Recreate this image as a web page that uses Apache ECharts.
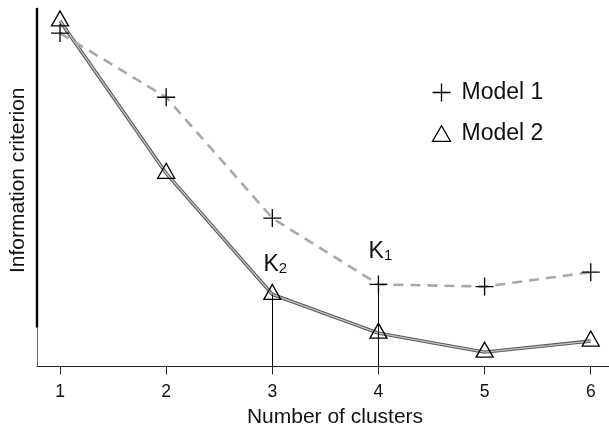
<!DOCTYPE html>
<html>
<head>
<meta charset="utf-8">
<script src="https://cdn.jsdelivr.net/npm/echarts@6/dist/echarts.min.js"></script>
<style>
html,body{margin:0;padding:0;background:#fff;}
#chart{width:609px;height:427px;}
</style>
</head>
<body>
<div id="chart"></div>
<script>
// ---- data ----
const clusters = [1, 2, 3, 4, 5, 6];
const tickValues = [1, 2, 3, 4, 5, 6];
const model1 = [93.0, 75.1, 41.4, 22.9, 22.3, 26.3];
const model2 = [96.4, 53.9, 20.1, 9.3, 4.0, 7.1];
const seriesNames = ['Model 1', 'Model 2'];
const xAxisName = 'Number of clusters';
const yAxisName = 'Information criterion';
const k2Cluster = 3;   // K2 marked on Model 2
const k1Cluster = 4;   // K1 marked on Model 1

// ---- axis ranges ----
const xMin = 0.783, xMax = 6.172;
const yMin = 0, yMax = 100;
const yThickFrom = 10.9;

const FONT = "'Liberation Sans', Arial, Helvetica, sans-serif";
const plusPath = 'path://M9,0L9,18M0,9L18,9';

const pts1 = clusters.map((c, i) => [c, model1[i]]);
const pts2 = clusters.map((c, i) => [c, model2[i]]);

const chart = echarts.init(document.getElementById('chart'), null, {renderer: 'canvas'});
chart.setOption({
  animation: false,
  backgroundColor: '#fff',
  textStyle: {fontFamily: FONT},
  grid: {left: 37, right: 0, top: 8, bottom: 60.5, containLabel: false, outerBoundsMode: 'none'},
  legend: {
    orient: 'vertical',
    left: 425,
    top: 76,
    itemWidth: 18,
    itemHeight: 18,
    itemGap: 18,
    selectedMode: false,
    textStyle: {fontFamily: FONT, fontSize: 23, color: '#111', padding: [0, 0, 0, 6]},
    data: [
      {name: seriesNames[0], icon: plusPath,
       itemStyle: {color: 'none', borderColor: '#000', borderWidth: 1.3}},
      {name: seriesNames[1], icon: 'path://M1,0L2,1.732L0,1.732Z',
       itemStyle: {color: 'none', borderColor: '#000', borderWidth: 1.3}}
    ]
  },
  xAxis: {
    type: 'value',
    min: xMin, max: xMax,
    name: xAxisName,
    nameLocation: 'middle',
    nameGap: 40,
    nameMoveOverlap: false,
    nameTextStyle: {fontFamily: FONT, fontSize: 21, color: '#111', padding: [0, 0, 0, 24]},
    axisLine: {show: true, onZero: false, lineStyle: {color: '#222', width: 1.2}},
    axisTick: {show: true, inside: false, length: 8, customValues: tickValues,
               lineStyle: {color: '#222', width: 1}},
    axisLabel: {show: true, margin: 17, customValues: tickValues,
                fontFamily: FONT, fontSize: 17.5, color: '#111'},
    splitLine: {show: false}
  },
  yAxis: {
    type: 'value',
    min: yMin, max: yMax,
    name: yAxisName,
    nameLocation: 'middle',
    nameGap: 8,
    nameMoveOverlap: false,
    nameTextStyle: {fontFamily: FONT, fontSize: 21, color: '#111', padding: [0, 0, 0, 14]},
    axisLine: {show: true, onZero: false, lineStyle: {color: '#666', width: 1}},
    axisTick: {show: false},
    axisLabel: {show: false},
    splitLine: {show: false}
  },
  series: [
    {
      name: 'Model 2 outline',
      type: 'line',
      data: pts2,
      showSymbol: false,
      symbol: 'none',
      clip: false,
      z: 2,
      lineStyle: {color: '#5a5a5a', width: 3.4},
      markLine: {
        silent: true,
        symbol: 'none',
        label: {show: false},
        lineStyle: {color: '#000', width: 2.4, type: 'solid'},
        data: [[{coord: [xMin, yThickFrom]}, {coord: [xMin, yMax]}]]
      }
    },
    {
      name: seriesNames[1],
      type: 'line',
      data: pts2,
      clip: false,
      z: 3,
      symbol: 'triangle',
      symbolSize: [17, 15],
      symbolOffset: [0, -2.5],
      itemStyle: {color: 'none', borderColor: '#000', borderWidth: 1.3},
      lineStyle: {color: '#c4c4c4', width: 1.3},
      markLine: {
        silent: true,
        symbol: 'none',
        label: {show: false},
        lineStyle: {color: '#000', width: 1, type: 'solid'},
        data: [[{coord: [k2Cluster, model2[clusters.indexOf(k2Cluster)]]}, {coord: [k2Cluster, yMin]}]]
      },
      markPoint: {
        silent: true,
        symbol: 'circle',
        symbolSize: 0,
        data: [{
          coord: [k2Cluster, model2[clusters.indexOf(k2Cluster)]],
          label: {show: true, formatter: '{k|K}{s|2}', offset: [3, -30]}
        }],
        label: {
          rich: {
            k: {fontFamily: FONT, fontSize: 23, color: '#111'},
            s: {fontFamily: FONT, fontSize: 15, color: '#111', verticalAlign: 'bottom', padding: [0, 0, 0, 0]}
          }
        }
      }
    },
    {
      name: seriesNames[0],
      type: 'line',
      data: pts1,
      clip: false,
      z: 4,
      symbol: plusPath,
      symbolSize: 18,
      itemStyle: {color: 'none', borderColor: '#000', borderWidth: 1.3},
      lineStyle: {color: '#a9a9a9', width: 2.6, type: [10, 7]},
      markLine: {
        silent: true,
        symbol: 'none',
        label: {show: false},
        lineStyle: {color: '#000', width: 1, type: 'solid'},
        data: [[{coord: [k1Cluster, model1[clusters.indexOf(k1Cluster)]]}, {coord: [k1Cluster, yMin]}]]
      },
      markPoint: {
        silent: true,
        symbol: 'circle',
        symbolSize: 0,
        data: [{
          coord: [k1Cluster, model1[clusters.indexOf(k1Cluster)]],
          label: {show: true, formatter: '{k|K}{s|1}', offset: [2, -33]}
        }],
        label: {
          rich: {
            k: {fontFamily: FONT, fontSize: 23, color: '#111'},
            s: {fontFamily: FONT, fontSize: 15, color: '#111', verticalAlign: 'bottom', padding: [0, 0, 0, 0]}
          }
        }
      }
    }
  ]
});
</script>
</body>
</html>
